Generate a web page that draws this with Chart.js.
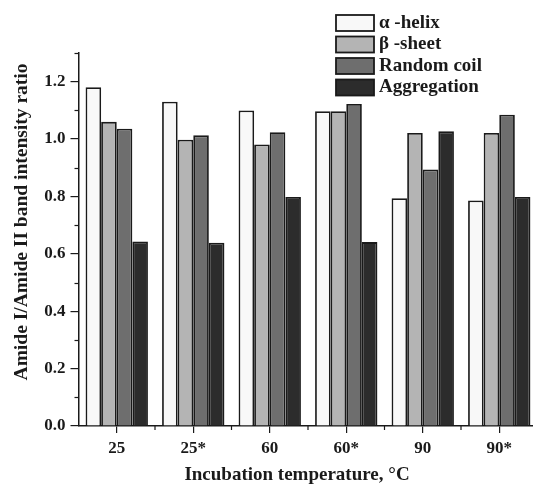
<!DOCTYPE html>
<html lang="en">
<head>
  <meta charset="UTF-8">
  <title>Amide I/Amide II band intensity ratio</title>
  <script src="https://cdn.jsdelivr.net/npm/chart.js"></script>
  <style>
    html, body { margin: 0; padding: 0; background: #fff; }
    .wrap { width: 533px; height: 488px; overflow: hidden; position: relative; }
    canvas { display: block; }
  </style>
</head>
<body>
  <div class="wrap">
    <canvas id="chart" width="545" height="488"></canvas>
  </div>

  <script>
    // values
    const temps = ['25', '25*', '60', '60*', '90', '90*'];
    const alphaHelix = [1.181, 1.130, 1.100, 1.097, 0.794, 0.786];
    const betaSheet = [1.060, 0.998, 0.981, 1.097, 1.021, 1.021];
    const randomCoil = [1.036, 1.013, 1.024, 1.122, 0.894, 1.085];
    const aggregation = [0.643, 0.639, 0.798, 0.641, 1.027, 0.798];
    const seriesNames = ['\u03b1 -helix', '\u03b2 -sheet', 'Random coil', 'Aggregation'];
    const yTicks = [0, 0.2, 0.4, 0.6, 0.8, 1.0, 1.2];

    const fills = ['#f8f8f8', '#b4b4b4', '#6e6e6e', '#2c2c2c'];
    const ink = '#1a1a1a';
    const serif = '"Liberation Serif", "DejaVu Serif", serif';

    const series = [alphaHelix, betaSheet, randomCoil, aggregation];

    // minor ticks, axis titles and the boxed legend
    const extras = {
      id: 'extras',
      afterDraw(chart) {
        const ctx = chart.ctx;
        const x = chart.scales.x, y = chart.scales.y;
        const area = chart.chartArea;
        ctx.save();
        ctx.strokeStyle = ink;
        ctx.lineWidth = 1.2;
        // y minor ticks
        for (let v = 0.1; v < 1.3; v += 0.2) {
          const py = Math.round(y.getPixelForValue(v)) + 0.5;
          ctx.beginPath();
          ctx.moveTo(area.left - 4, py);
          ctx.lineTo(area.left, py);
          ctx.stroke();
        }
        // x minor ticks between categories
        for (let i = 1; i < temps.length; i++) {
          const px = (x.getPixelForValue(i - 1) + x.getPixelForValue(i)) / 2;
          ctx.beginPath();
          ctx.moveTo(px, area.bottom);
          ctx.lineTo(px, area.bottom + 4);
          ctx.stroke();
        }

        ctx.fillStyle = ink;
        ctx.font = 'bold 19px ' + serif;
        ctx.textAlign = 'center';
        ctx.textBaseline = 'middle';
        ctx.fillText('Incubation temperature, \u00b0C', 297, 475);

        ctx.save();
        ctx.translate(22, 222);
        ctx.rotate(-Math.PI / 2);
        ctx.font = 'bold 19.5px ' + serif;
        ctx.fillText('Amide I/Amide II band intensity ratio', 0, 0);
        ctx.restore();

        // legend
        ctx.textAlign = 'left';
        ctx.font = 'bold 19px ' + serif;
        chart.data.datasets.forEach((ds, i) => {
          const top = 15 + i * 21.5;
          ctx.fillStyle = ds.backgroundColor;
          ctx.fillRect(336, top, 38, 16);
          ctx.lineWidth = 1.8;
          ctx.strokeStyle = ink;
          ctx.strokeRect(336, top, 38, 16);
          ctx.fillStyle = ink;
          ctx.fillText(ds.label, 379, top + 8);
        });
        ctx.restore();
      }
    };

    new Chart(document.getElementById('chart'), {
      type: 'bar',
      data: {
        labels: temps,
        datasets: series.map((vals, i) => ({
          label: seriesNames[i],
          data: vals,
          backgroundColor: fills[i],
          borderColor: ink,
          borderWidth: 1.8,
          borderSkipped: 'bottom',
          categoryPercentage: 0.815,
          barPercentage: 1.0
        }))
      },
      options: {
        responsive: false,
        animation: false,
        layout: { padding: { top: 53, right: 7.5, bottom: 0, left: 0 } },
        plugins: { legend: { display: false }, tooltip: { enabled: false } },
        scales: {
          x: {
            grid: { offset: false, drawOnChartArea: false, tickLength: 7, color: ink, lineWidth: 1.2 },
            border: { color: ink, width: 1.5 },
            ticks: { color: ink, font: { family: serif, size: 17, weight: 'bold' }, padding: 5 },
            afterFit(scale) { scale.height = 62; }
          },
          y: {
            min: 0,
            max: 1.3,
            grid: { drawOnChartArea: false, tickLength: 8, color: ink, lineWidth: 1.2 },
            border: { color: ink, width: 1.5 },
            afterBuildTicks(scale) { scale.ticks = yTicks.map(v => ({ value: v })); },
            ticks: {
              color: ink,
              font: { family: serif, size: 17, weight: 'bold' },
              padding: 5,
              callback: v => v.toFixed(1)
            },
            afterFit(scale) { scale.width = 78.5; }
          }
        }
      },
      plugins: [extras]
    });
  </script>
</body>
</html>
